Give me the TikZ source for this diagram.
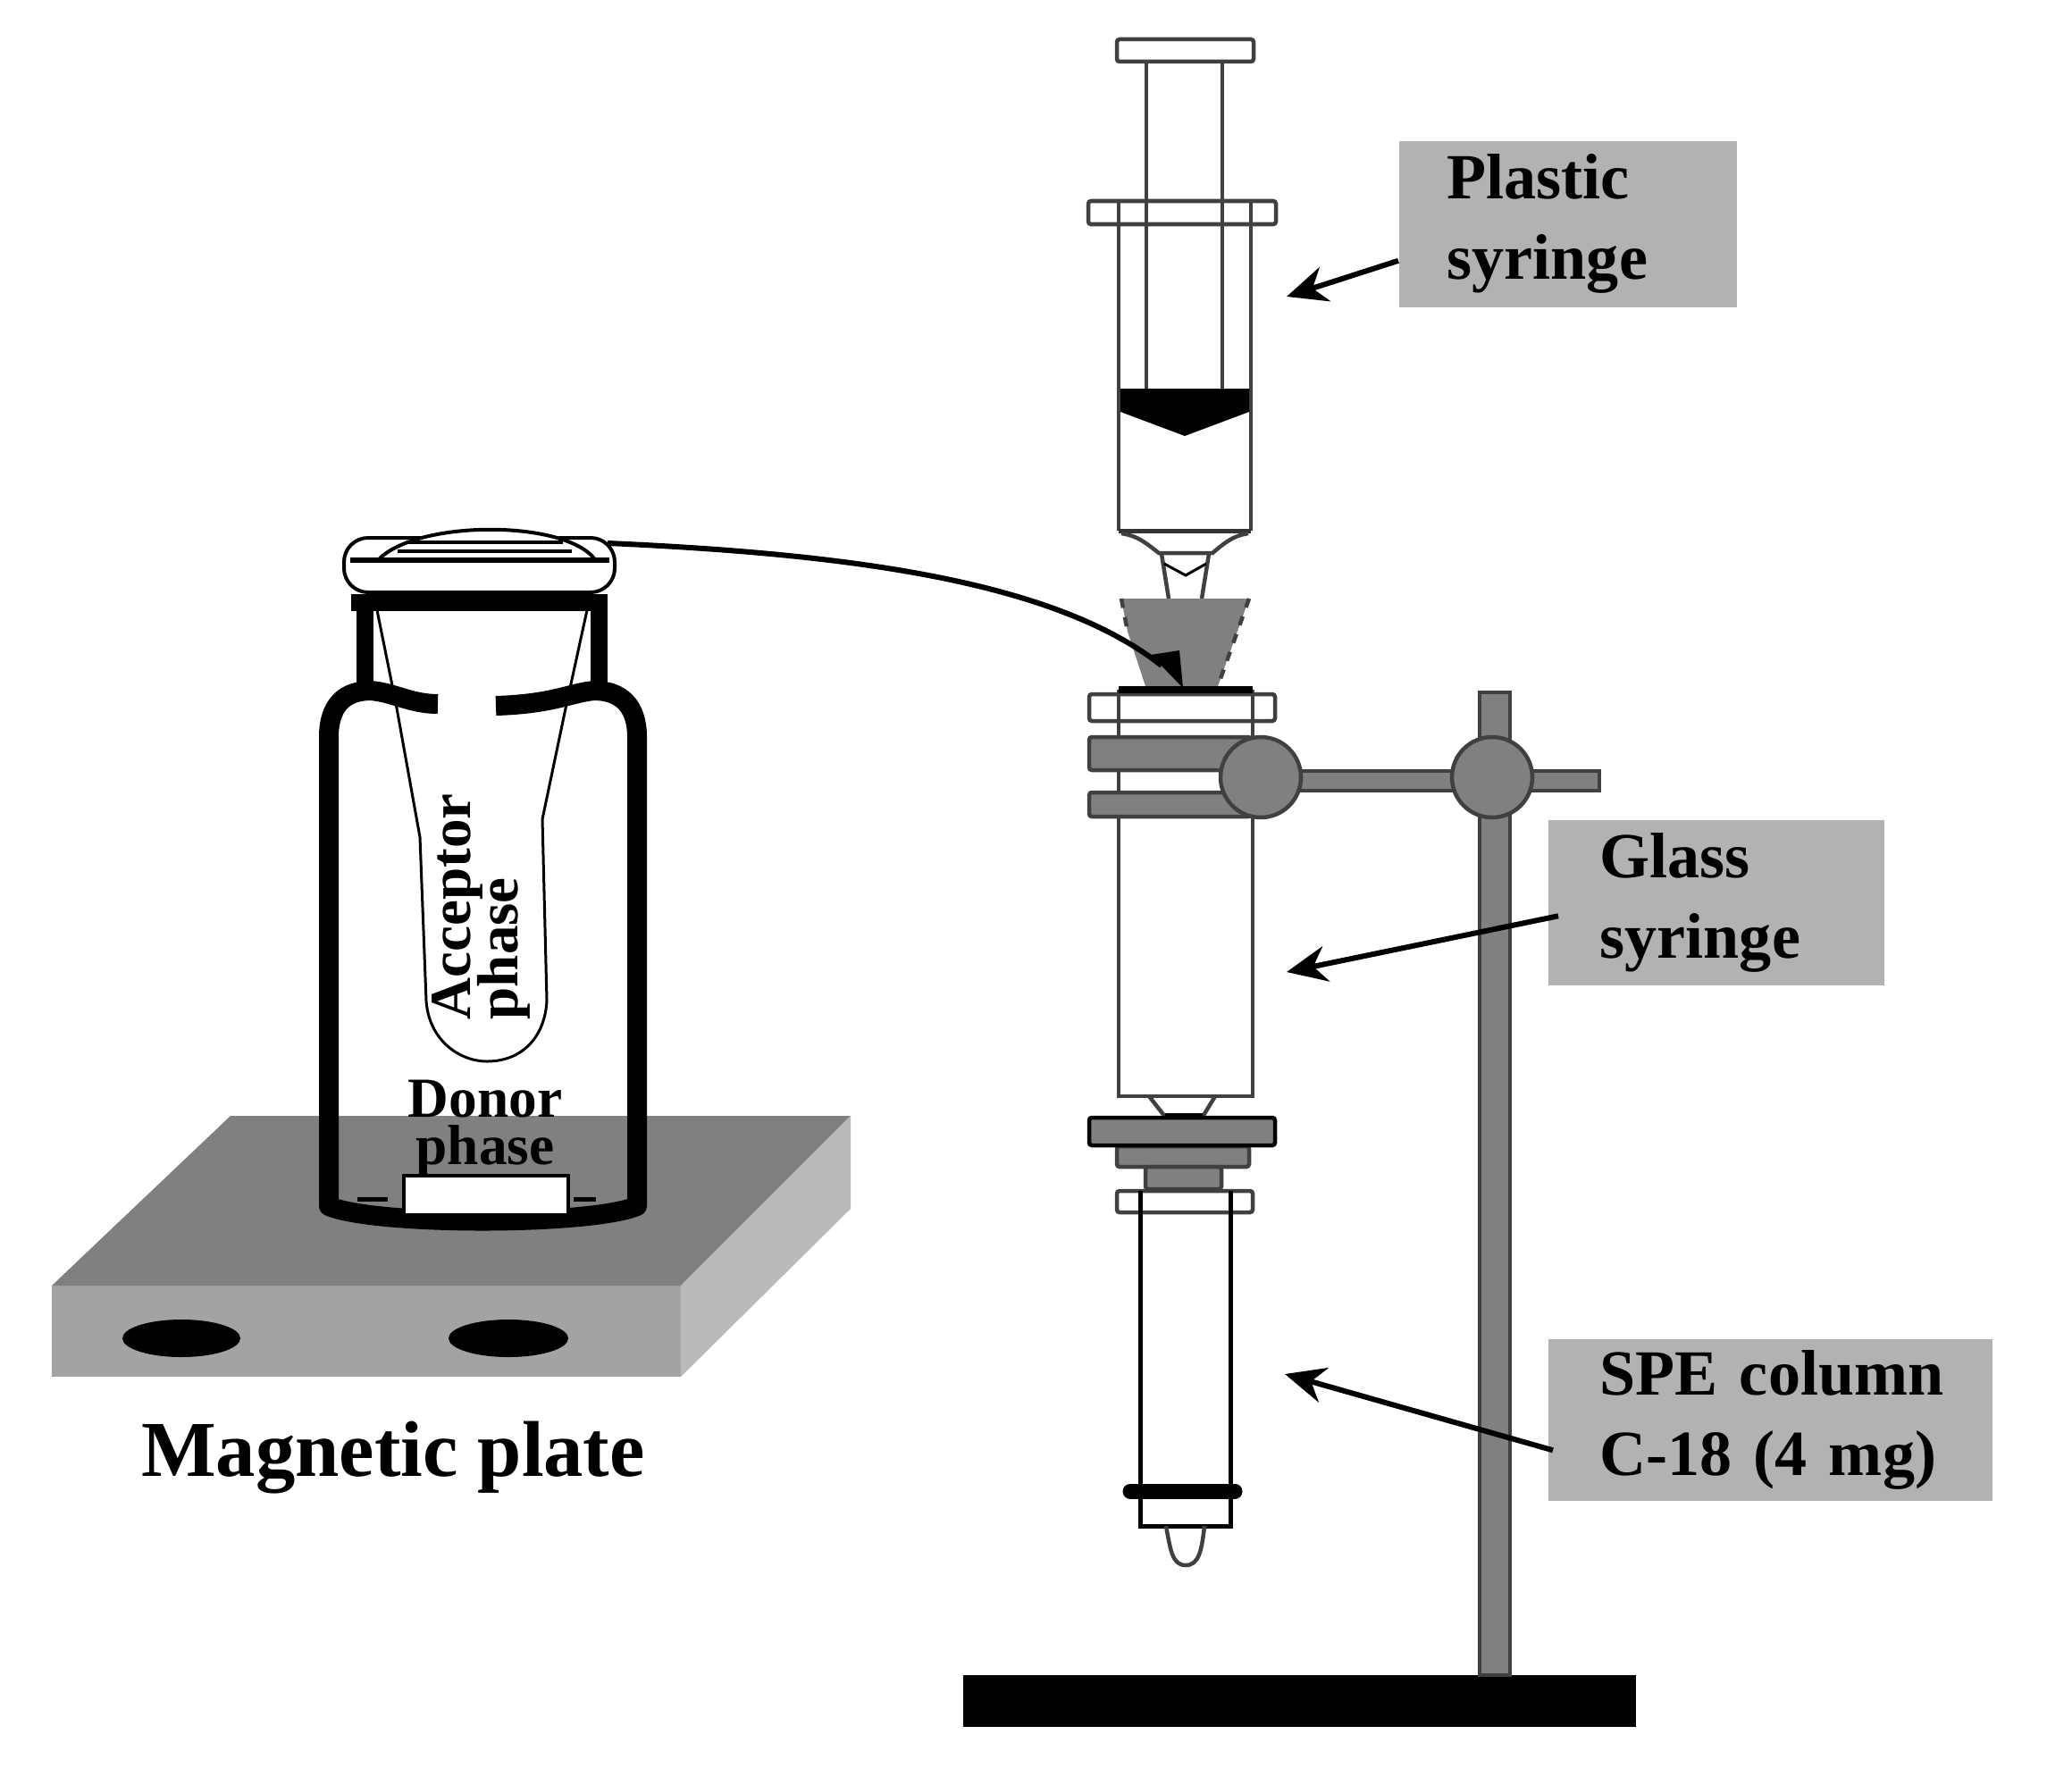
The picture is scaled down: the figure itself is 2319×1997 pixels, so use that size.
\documentclass[tikz,border=0pt]{standalone}
\usepackage{fontspec}
\setmainfont{Liberation Serif}
\usetikzlibrary{arrows.meta}
\definecolor{partgray}{HTML}{808080}
\definecolor{boxgray}{HTML}{B2B2B2}
\definecolor{frontgray}{HTML}{A3A3A3}
\definecolor{sidegray}{HTML}{BABABA}
\begin{document}
\begin{tikzpicture}
[x=.01cm, y=-.01cm, >={Stealth[length=4.5mm,width=4mm]},
 outline/.style={draw=black!75, line width=.045cm},
 part/.style={outline, fill=partgray, rounded corners=.03cm},
 flange/.style={outline, fill=white, rounded corners=.03cm},
 wall/.style={line width=.22cm, line cap=butt},
 labelbox/.style={fill=boxgray, anchor=north west, align=left, inner ysep=0pt,
   font=\bfseries\fontsize{20.5}{25.6}\selectfont},
 pointer/.style={->, line width=.06cm},
 sidetext/.style={inner sep=0pt, align=center, font=\bfseries\fontsize{18}{14.8}\selectfont}]
\useasboundingbox (0,0) rectangle (2319,1997);

\fill[frontgray] (58,1439) rectangle (762,1541);
\fill[partgray] (258,1249) -- (952,1249) -- (762,1439) -- (58,1439) -- cycle;
\fill[sidegray] (762,1439) -- (952,1249) -- (952,1353) -- (762,1541) -- cycle;
\fill (203,1498) ellipse (66 and 21);
\fill (569,1498) ellipse (67 and 21);

\draw[line width=.05cm] (400,1342) -- (434,1342) (642,1342) -- (667,1342);
\draw[line width=.03cm] (422,683) -- (443,787) -- (470,937) -- (477,1120)
  .. controls (480,1165) and (515,1188) .. (545,1188)
  .. controls (585,1188) and (610,1160) .. (612,1120) -- (607,917) -- (633,793) -- (657,683);
\draw[wall] (368,1350) -- (368,825) .. controls (368,790) and (385,773) .. (415,773)
  .. controls (440,775) and (460,788) .. (490,788);
\draw[wall] (713,1350) -- (713,825) .. controls (713,790) and (695,773) .. (665,773)
  .. controls (640,775) and (620,788) .. (555,790);
\draw[wall, line cap=round] (368,1350) .. controls (420,1372) and (660,1372) .. (713,1350);
\draw[line width=.04cm, fill=white] (452,1358) -- (452,1316) -- (636,1316) -- (636,1358);
\draw[line width=.19cm] (408,775) -- (408,674) (670,775) -- (670,674);
\draw[line width=.19cm] (393,674) -- (680,674);
\draw[line width=.04cm, fill=white, rounded corners=.27cm] (385,602) rectangle (688,663);
\draw[line width=.04cm, fill=white] (425,625) .. controls (470,582) and (630,582) .. (665,625);
\draw[line width=.06cm] (392,627) -- (682,627);
\draw[line width=.035cm] (445,617) -- (640,617) (455,607) -- (630,607);

\node (donor) at (543,1263) [sidetext] {Donor\\phase};
\node (acceptor) at (594,1142) [sidetext, rotate=90, anchor=south west, align=left,
  font=\bfseries\fontsize{18.5}{13.2}\selectfont] {Acceptor\\[-2.8pt]phase};
\node (magnetic) at (440,1632) [font=\bfseries\fontsize{25.2}{30}\selectfont, inner sep=0pt] {Magnetic plate};

\fill (1078,1875) rectangle (1831,1933);
\draw[outline, fill=partgray] (1656,775) rectangle (1690,1875);
\draw[outline, fill=partgray] (1400,863) rectangle (1790,885);

\draw[flange] (1250,44) rectangle (1403,69);
\draw[outline] (1283,69) -- (1283,435) (1368,69) -- (1368,435);
\draw[outline] (1252,594) -- (1252,227) (1400,594) -- (1400,227);
\draw[flange, fill=none] (1218,225) rectangle (1428,251);
\draw[line width=.05cm, draw=black!80, line join=round] (1252,594) -- (1400,594);
\fill (1254,435) -- (1398,435) -- (1398,461) -- (1326,488) -- (1254,461) -- cycle;
\draw[outline] (1255,597) .. controls (1275,600) and (1285,610) .. (1297,619) -- (1357,619)
  .. controls (1368,610) and (1378,600) .. (1397,597);
\draw[outline] (1300,620) -- (1308,670) (1353,620) -- (1345,670);
\draw[line width=.03cm] (1303,631) -- (1327,644) -- (1350,631);

\fill[partgray] (1255,670) -- (1398,670) -- (1363,768) -- (1282,768) -- (1262,707) -- cycle;
\draw[outline, dashed] (1255,670) -- (1262,707) (1398,670) -- (1363,768);
\draw[flange] (1219,777) rectangle (1427,807);
\draw[outline] (1252,772) -- (1252,1227) -- (1402,1227) -- (1402,772);
\draw[line width=.08cm] (1252,772) -- (1402,772);
\draw[part] (1219,825) rectangle (1400,862);
\draw[part] (1219,887) rectangle (1400,914);
\draw[outline, fill=partgray] (1411,870) circle (45);
\draw[outline, fill=partgray] (1670,870) circle (45);

\draw[outline] (1286,1227) -- (1304,1250) (1360,1227) -- (1346,1250);
\draw[part] (1250,1283) rectangle (1398,1306);
\draw[part, draw=black] (1219,1251) rectangle (1427,1282);
\fill (1304,1246) rectangle (1346,1252);
\draw[part] (1282,1306) rectangle (1367,1331);
\draw[flange] (1250,1333) rectangle (1402,1357);
\draw[line width=.05cm] (1276,1333) -- (1276,1708) -- (1377,1708) -- (1377,1333);
\draw[line width=.17cm, line cap=round] (1265,1669) -- (1382,1669);
\draw[outline] (1305,1708) .. controls (1310,1735) and (1312,1752) .. (1327,1752)
  .. controls (1342,1752) and (1345,1735) .. (1348,1708);

\coordinate (capend) at (680,608);
\coordinate (wedge) at (1300,745);
\draw[line width=.06cm] (capend) .. controls (950,620) and (1180,650) .. (wedge);
\fill (1288,733) -- (1320,728) -- (1324,770) -- cycle;

\node (plastic) at (1565,157) [labelbox, text width=2.70cm, minimum height=1.86cm, inner xsep=.54cm] {Plastic\\syringe};
\node (glass) at (1732,917) [labelbox, text width=2.60cm, minimum height=1.85cm, inner xsep=.58cm] {Glass\\syringe};
\node (spe) at (1732,1498) [labelbox, text width=3.81cm, minimum height=1.81cm, inner xsep=.58cm] {\mbox{SPE column}\\\mbox{C-18 (4 mg)}};
\coordinate (plastictip) at (1440,332);
\coordinate (glasstip) at (1440,1088);
\coordinate (spetip) at (1438,1538);
\draw[pointer] ([yshift=-.41cm]plastic.west) -- (plastictip);
\draw[pointer] ([xshift=.12cm,yshift=-.15cm]glass.west) -- (glasstip);
\draw[pointer] ([xshift=.06cm,yshift=-.34cm]spe.west) -- (spetip);
\end{tikzpicture}
\end{document}
